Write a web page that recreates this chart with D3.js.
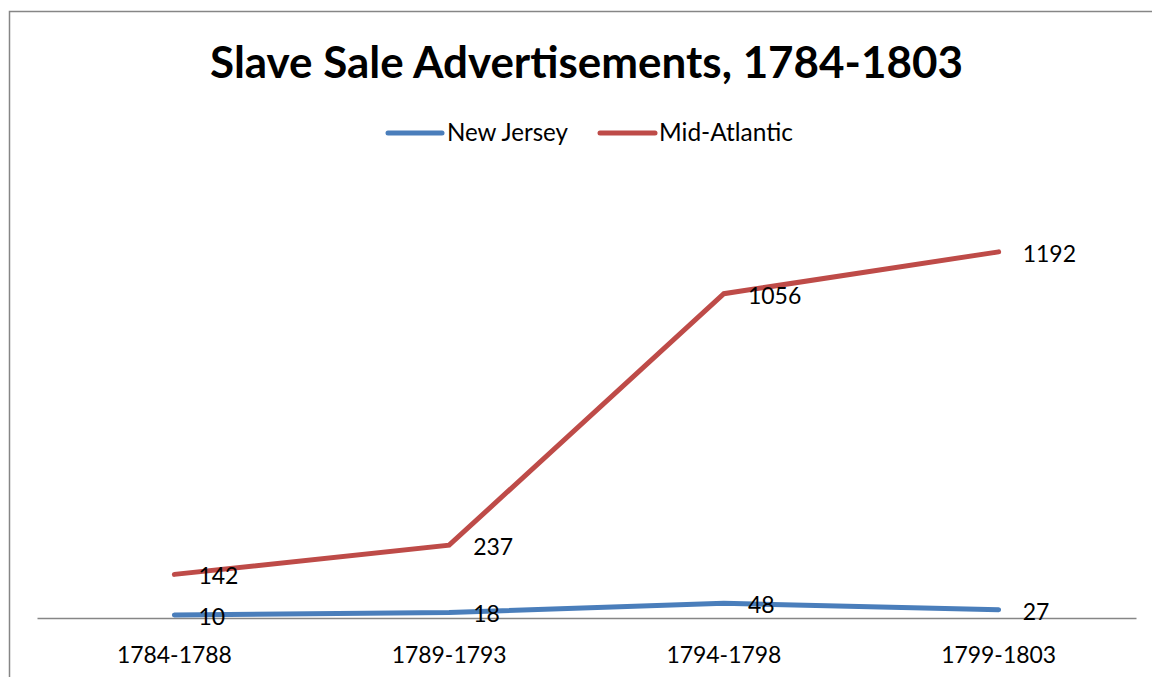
<!DOCTYPE html>
<html>
<head>
<meta charset="utf-8">
<script src="https://cdn.jsdelivr.net/npm/d3@7"></script>
<style>
  body { margin: 0; background: #fff; }
  svg { display: block; }
  text { font-family: Lato, "Open Sans", sans-serif; fill: #000; }
</style>
</head>
<body>
<svg width="1152" height="677"></svg>
<script>
const periods = ['1784-1788', '1789-1793', '1794-1798', '1799-1803'];
const newJersey = [10, 18, 48, 27];
const midAtlantic = [142, 237, 1056, 1192];
const seriesNames = ['New Jersey', 'Mid-Atlantic'];
const seriesColors = ['#4a7ebb', '#be4b48'];

const svg = d3.select('svg');
const width = +svg.attr('width');
const height = +svg.attr('height');

// fit a text element's font size so its width matches target
const fitWidth = (sel, target) => {
  sel.style('font-size', '100px');
  const len = sel.node().getComputedTextLength();
  sel.style('font-size', (100 * target / len) + 'px');
};

// outer chart border (runs off right/bottom)
svg.append('rect')
  .attr('x', 9.5).attr('y', 11.5)
  .attr('width', width + 20).attr('height', height + 20)
  .attr('fill', 'none')
  .attr('stroke', '#868686')
  .attr('stroke-width', 1.5);

const x = d3.scaleBand().domain(periods).range([37, 1136]);
const y = d3.scaleLinear().domain([0, 1400]).range([618, 188]);
const cx = d => x(d) + x.bandwidth() / 2;

// title
const title = svg.append('text')
  .attr('x', 586.5).attr('y', 78)
  .attr('text-anchor', 'middle')
  .style('font-weight', 'bold')
  .text('Slave Sale Advertisements, 1784-1803');
fitWidth(title, 753);

// legend
const legendItems = [
  { name: seriesNames[0], color: seriesColors[0], x1: 388, x2: 442, tx: 447, w: 121 },
  { name: seriesNames[1], color: seriesColors[1], x1: 600, x2: 655, tx: 659, w: 134 }
];
const lg = svg.append('g').attr('class', 'legend');
legendItems.forEach(d => {
  lg.append('line')
    .attr('x1', d.x1).attr('x2', d.x2)
    .attr('y1', 133).attr('y2', 133)
    .attr('stroke', d.color)
    .attr('stroke-width', 5)
    .attr('stroke-linecap', 'round');
  const t = lg.append('text')
    .attr('x', d.tx).attr('y', 141)
    .text(d.name);
  fitWidth(t, d.w);
});

// x axis
const xAxis = d3.axisBottom(x).tickSize(0).tickPadding(0);
const xAxisG = svg.append('g')
  .attr('class', 'x-axis')
  .attr('transform', `translate(0,${y(0)})`)
  .call(xAxis);
xAxisG.select('.domain')
  .attr('stroke', '#868686')
  .attr('stroke-width', 1.5);
xAxisG.selectAll('.tick text')
  .attr('y', 45)
  .attr('dy', 0)
  .style('font-family', 'Lato, "Open Sans", sans-serif')
  .each(function () { fitWidth(d3.select(this), 115); });

// lines
const series = [newJersey, midAtlantic];
const line = d3.line()
  .x((d, i) => cx(periods[i]))
  .y(d => y(d));

series.forEach((values, si) => {
  svg.append('path')
    .datum(values)
    .attr('fill', 'none')
    .attr('stroke', seriesColors[si])
    .attr('stroke-width', 5)
    .attr('stroke-linecap', 'round')
    .attr('stroke-linejoin', 'miter')
    .attr('d', line);
});

// data labels
series.forEach(values => {
  svg.append('g')
    .selectAll('text')
    .data(values)
    .enter().append('text')
      .attr('x', (d, i) => cx(periods[i]) + 24)
      .attr('y', d => y(d) + 10)
      .style('font-size', '23px')
      .text(d => d);
});
</script>
</body>
</html>
